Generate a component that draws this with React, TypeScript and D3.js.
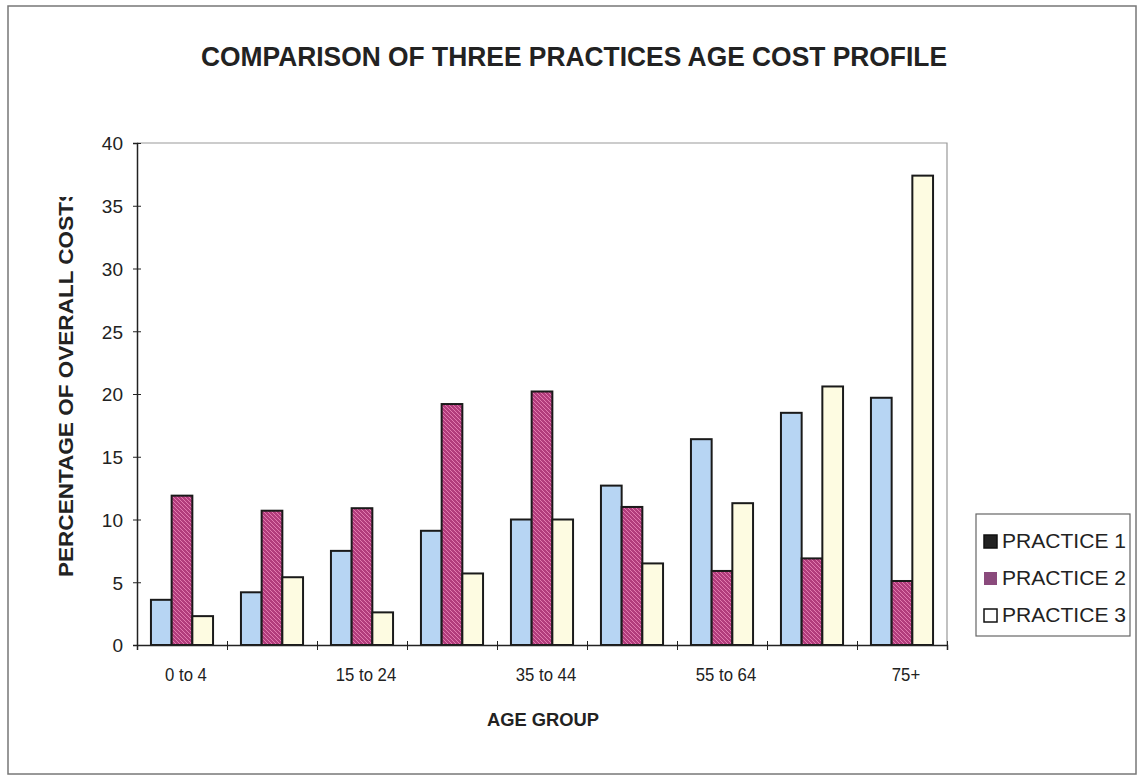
import React, { useEffect, useRef } from 'react';
import * as d3 from 'd3';

const ageGroups = ['0 to 4', '5 to 14', '15 to 24', '25 to 34', '35 to 44', '45 to 54', '55 to 64', '65 to 74', '75+'];
const practice1 = [3.6, 4.2, 7.5, 9.1, 10.0, 12.7, 16.4, 18.5, 19.7];
const practice2 = [11.9, 10.7, 10.9, 19.2, 20.2, 11.0, 5.9, 6.9, 5.1];
const practice3 = [2.3, 5.4, 2.6, 5.7, 10.0, 6.5, 11.3, 20.6, 37.4];
const seriesNames = ['PRACTICE 1', 'PRACTICE 2', 'PRACTICE 3'];
const yTicks = [0, 5, 10, 15, 20, 25, 30, 35, 40];

export default function App() {
  const ref = useRef<SVGSVGElement>(null);

  useEffect(() => {
    const svg = d3.select(ref.current);
    svg.selectAll('*').remove();

    const font = 'Liberation Sans, Arial, sans-serif';
    const left = 137, right = 947, top = 143, bottom = 645;

    // outer frame
    svg.append('rect').attr('x', 8).attr('y', 6).attr('width', 1128).attr('height', 768)
      .attr('fill', '#fff').attr('stroke', '#777').attr('stroke-width', 1.5);

    const defs = svg.append('defs');
    const pat = defs.append('pattern').attr('id', 'hatch').attr('patternUnits', 'userSpaceOnUse')
      .attr('width', 4).attr('height', 4);
    pat.append('rect').attr('width', 4).attr('height', 4).attr('fill', '#b23c7c');
    pat.append('path').attr('d', 'M-1,-1 L5,5 M-1,3 L1,5 M3,-1 L5,1')
      .attr('stroke', '#e27bb0').attr('stroke-width', 1);
    defs.append('clipPath').attr('id', 'ylab').append('rect')
      .attr('x', 0).attr('y', 197).attr('width', 130).attr('height', 500);

    const x0 = d3.scaleBand().domain(ageGroups).range([left, right]).paddingInner(0.31).paddingOuter(0.155);
    const x1 = d3.scaleBand().domain(seriesNames).range([0, x0.bandwidth()]);
    const y = d3.scaleLinear().domain([0, 40]).range([bottom, top]);

    // plot frame top / right
    svg.append('path').attr('d', `M${left},${top} H${right} V${bottom}`)
      .attr('fill', 'none').attr('stroke', '#999').attr('stroke-width', 1.2);

    const colors = ['#b7d5f3', 'url(#hatch)', '#fdfbe1'];
    const data = [practice1, practice2, practice3];
    ageGroups.forEach((g, i) => {
      data.forEach((s, k) => {
        svg.append('rect')
          .attr('x', x0(g)! + x1(seriesNames[k])!)
          .attr('y', y(s[i]))
          .attr('width', x1.bandwidth())
          .attr('height', y(0) - y(s[i]))
          .attr('fill', colors[k])
          .attr('stroke', '#1a1a1a').attr('stroke-width', 2);
      });
    });

    // y axis
    const yAxis = svg.append('g').attr('transform', `translate(${left},0)`)
      .call(d3.axisLeft(y).tickValues(yTicks).tickSize(4).tickPadding(10));
    yAxis.select('.domain').attr('stroke', '#222').attr('stroke-width', 1.5);
    yAxis.selectAll('.tick line').attr('x2', 4).attr('x1', -4).attr('stroke', '#222');
    yAxis.selectAll('text').attr('font-family', font).attr('font-size', 19).attr('fill', '#222')
      .attr('dy', '0.36em');

    // x axis: ticks at category boundaries
    const xb = d3.scaleLinear().domain([0, ageGroups.length]).range([left, right]);
    const xAxis = svg.append('g').attr('transform', `translate(0,${bottom})`)
      .call(d3.axisBottom(xb).ticks(ageGroups.length).tickSize(5).tickFormat(() => ''));
    xAxis.select('.domain').attr('stroke', '#222').attr('stroke-width', 1.5);
    xAxis.selectAll('.tick line').attr('y1', -4).attr('y2', 5).attr('stroke', '#222');

    svg.append('g').selectAll('text').data(ageGroups.filter((_, i) => i % 2 === 0)).enter().append('text')
      .attr('x', d => x0(d)! + x0.bandwidth() / 2 + 4)
      .attr('y', bottom + 36)
      .attr('text-anchor', 'middle')
      .attr('font-family', font).attr('font-size', 19).attr('fill', '#222')
      .attr('transform', d => `translate(${x0(d)! + x0.bandwidth() / 2 + 4},0) scale(0.88,1) translate(${-(x0(d)! + x0.bandwidth() / 2 + 4)},0)`)
      .text(d => d);

    // title
    svg.append('text').attr('x', 574).attr('y', 66).attr('text-anchor', 'middle')
      .attr('font-family', font).attr('font-weight', 'bold').attr('font-size', 27)
      .attr('textLength', 746).attr('lengthAdjust', 'spacingAndGlyphs').attr('fill', '#222')
      .text('COMPARISON OF THREE PRACTICES AGE  COST PROFILE');

    // axis titles
    svg.append('text').attr('x', 543).attr('y', 726).attr('text-anchor', 'middle')
      .attr('font-family', font).attr('font-weight', 'bold').attr('font-size', 19)
      .attr('textLength', 112).attr('lengthAdjust', 'spacingAndGlyphs').attr('fill', '#222')
      .text('AGE GROUP');
    svg.append('g').attr('clip-path', 'url(#ylab)').append('text')
      .attr('transform', `translate(73,577) rotate(-90)`).attr('text-anchor', 'start')
      .attr('font-family', font).attr('font-weight', 'bold').attr('font-size', 20)
      .attr('textLength', 390).attr('lengthAdjust', 'spacingAndGlyphs').attr('fill', '#222')
      .text('PERCENTAGE OF OVERALL COSTS');

    // legend
    const lg = svg.append('g');
    lg.append('rect').attr('x', 976).attr('y', 514).attr('width', 154).attr('height', 122)
      .attr('fill', '#fff').attr('stroke', '#666').attr('stroke-width', 1.2);
    const swatch = ['#222', '#8a4a7c', '#fff'];
    seriesNames.forEach((n, k) => {
      const ly = 541 + k * 37;
      lg.append('rect').attr('x', 984).attr('y', ly - 6).attr('width', 13).attr('height', 13)
        .attr('fill', swatch[k]).attr('stroke', k === 1 ? 'none' : '#111').attr('stroke-width', 1.5);
      lg.append('text').attr('x', 1002).attr('y', ly + 7)
        .attr('font-family', font).attr('font-size', 20).attr('fill', '#222')
        .attr('textLength', 124).attr('lengthAdjust', 'spacingAndGlyphs')
        .text(n);
    });
  }, []);

  return (
    <svg ref={ref} width={1140} height={779} style={{ position: 'absolute', left: 0, top: 0, background: '#fff' }} />
  );
}
